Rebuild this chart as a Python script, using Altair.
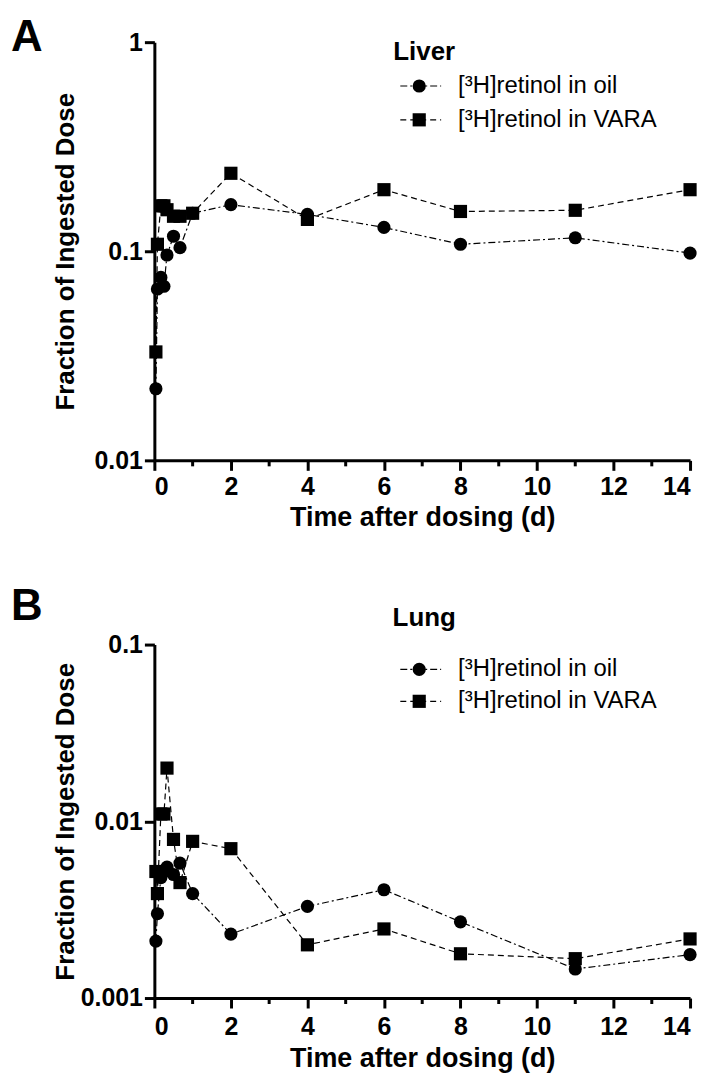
import altair as alt
import pandas as pd

# ---------------- data ----------------
times = [0.04, 0.08, 0.17, 0.25, 0.33, 0.5, 0.67, 1, 2, 4, 6, 8, 11, 14]

liver_oil = [0.022, 0.066, 0.075, 0.068, 0.096, 0.118, 0.104, 0.152, 0.167, 0.150, 0.130, 0.108, 0.116, 0.098]
liver_vara = [0.033, 0.108, 0.165, 0.165, 0.158, 0.147, 0.147, 0.152, 0.236, 0.142, 0.197, 0.155, 0.157, 0.197]

lung_oil = [0.0021, 0.0030, 0.0048, 0.0052, 0.0055, 0.0050, 0.0058, 0.0039, 0.0023, 0.0033, 0.0041, 0.0027, 0.00146, 0.00176]
lung_vara = [0.0052, 0.0039, 0.011, 0.011, 0.020, 0.0079, 0.0045, 0.0077, 0.0070, 0.0020, 0.00246, 0.00178, 0.00167, 0.00216]

series_names = ["[³H]retinol in oil", "[³H]retinol in VARA"]
x_ticks = [0, 2, 4, 6, 8, 10, 12, 14]
x_minor = [1, 3, 5, 7, 9, 11, 13]
liver_y_ticks = [0.01, 0.1, 1]
lung_y_ticks = [0.001, 0.01, 0.1]

panel_letters = ["A", "B"]
panel_titles = ["Liver", "Lung"]
x_title = "Time after dosing (d)"
y_title = "Fraction of Ingested Dose"

FONT = "Liberation Sans"
W = 538
DASHES = [[7, 3, 2, 3], [6, 4]]


def panel(oil, vara, yticks, height, letter, title, title_y, letter_y, leg_y,
          y_title_pad, x_label_pad, x_title_pad):
    n = len(times)
    df = pd.DataFrame({
        "t": times + times,
        "v": oil + vara,
        "s": [series_names[0]] * n + [series_names[1]] * n,
    })
    x = alt.X("t:Q",
              scale=alt.Scale(domain=[0, 14], nice=False, zero=False),
              axis=alt.Axis(values=x_ticks, title=x_title, labelPadding=x_label_pad,
                            titlePadding=x_title_pad))
    y = alt.Y("v:Q",
              scale=alt.Scale(type="log", domain=[yticks[0], yticks[-1]], nice=False),
              axis=alt.Axis(values=yticks, format="~g", title=y_title,
                            labelPadding=2, titlePadding=y_title_pad))
    dash_scale = alt.Scale(domain=series_names, range=DASHES)
    shape_scale = alt.Scale(domain=series_names, range=["circle", "square"])

    base = alt.Chart(df)
    lines = base.mark_line(color="black", strokeWidth=1.2).encode(
        x=x, y=y,
        strokeDash=alt.StrokeDash("s:N", scale=dash_scale, legend=None),
        detail="s:N",
    )
    pts = base.mark_point(filled=True, color="black", opacity=1, size=175).encode(
        x=x, y=y,
        shape=alt.Shape("s:N", scale=shape_scale, legend=None),
    )

    minor = alt.Chart(pd.DataFrame({"t": x_minor})).mark_rule(
        color="black", strokeWidth=3
    ).encode(x=x, y=alt.value(height), y2=alt.value(height + 6))

    title_df = pd.DataFrame({"label": [title]})
    title_mark = alt.Chart(title_df).mark_text(
        font=FONT, fontSize=26, fontWeight="bold", color="black",
        align="center", baseline="middle"
    ).encode(text="label:N", x=alt.value(W / 2 + 2), y=alt.value(title_y))

    letter_df = pd.DataFrame({"label": [letter]})
    letter_mark = alt.Chart(letter_df).mark_text(
        font=FONT, fontSize=44, fontWeight="bold", color="black",
        align="left", baseline="top"
    ).encode(text="label:N", x=alt.value(-144), y=alt.value(letter_y))

    legend_layers = []
    for i, name in enumerate(series_names):
        yy = leg_y[i]
        ldf = pd.DataFrame({"label": [name]})
        lc = alt.Chart(ldf)
        legend_layers.append(
            lc.mark_rule(color="black", strokeWidth=1.2, strokeDash=DASHES[i]).encode(
                x=alt.value(247), x2=alt.value(288), y=alt.value(yy))
        )
        legend_layers.append(
            lc.mark_point(filled=True, color="black", opacity=1, size=175,
                          shape=["circle", "square"][i]).encode(
                x=alt.value(266), y=alt.value(yy))
        )
        legend_layers.append(
            lc.mark_text(font=FONT, fontSize=24, color="black", align="left",
                         baseline="middle").encode(
                text="label:N", x=alt.value(305), y=alt.value(yy))
        )

    return alt.layer(lines, pts, minor, title_mark, letter_mark, *legend_layers).properties(
        width=W, height=height
    )


A = panel(liver_oil, liver_vara, liver_y_ticks, 420, panel_letters[0], panel_titles[0],
          10, -26, [44, 78], 16, 4, 5)
B = panel(lung_oil, lung_vara, lung_y_ticks, 355, panel_letters[1], panel_titles[1],
          -27, -60, [25, 57], 2, 7, 6)

chart = alt.vconcat(A, B, spacing=55).properties(
    padding={"left": 3, "top": 6, "right": 5, "bottom": 5}
).configure_view(stroke=None).configure_axis(
    domainColor="black", domainWidth=3, tickColor="black", tickWidth=3, tickSize=10,
    labelFont=FONT, labelFontSize=25, labelFontWeight="bold", labelColor="black",
    titleFont=FONT, titleFontSize=26, titleFontWeight="bold", titleColor="black",
    grid=False,
).configure_axisX(titleFontSize=27)

chart.save("out.html", embed_options={"renderer": "svg", "actions": False})
